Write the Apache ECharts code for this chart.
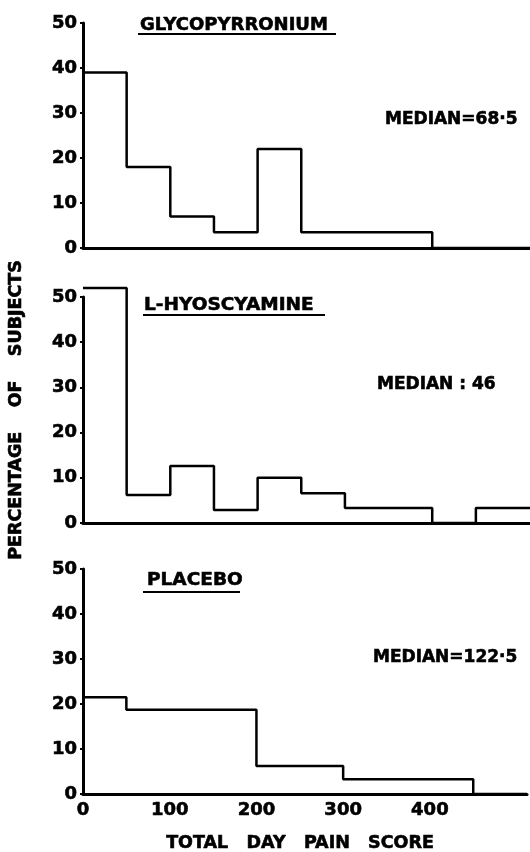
<!DOCTYPE html>
<html>
<head>
<meta charset="utf-8">
<script src="https://cdn.jsdelivr.net/npm/echarts@6/dist/echarts.min.js"></script>
<style>
html,body{margin:0;padding:0;background:#fff;}
#chart{width:530px;height:852px;}
</style>
</head>
<body>
<div id="chart"></div>
<script>
// bins of 50 on the pain score axis
var binEdges = [0, 50, 100, 150, 200, 250, 300, 350, 400, 450];
var glycoValues = [39, 18, 7, 3.5, 22, 3.5, 3.5, 3.5, 0, 0];
var hyosValues = [52, 6.2, 12.6, 2.9, 10, 6.6, 3.3, 3.3, 0, 3.3];
var placeboValues = [21.5, 18.7, 18.7, 18.7, 6.2, 6.2, 3.3, 3.3, 3.3, 0];

var panelNames = ['GLYCOPYRRONIUM', 'L-HYOSCYAMINE', 'PLACEBO'];
var medianLabels = ['MEDIAN=68·5', 'MEDIAN : 46', 'MEDIAN=122·5'];
var xTickLabels = ['0', '100', '200', '300', '400'];
var yTicks = [0, 10, 20, 30, 40, 50];

var X_MAX = 512;
var FONT = 'DejaVu Sans';

function stepPoints(values){
    var pts = [];
    for (var i = 0; i < binEdges.length; i++) {
        pts.push([binEdges[i], values[i]]);
    }
    pts.push([X_MAX, values[values.length - 1]]);
    return pts;
}

var grids = [
    {left: 83, width: 447, top: 23, height: 225},
    {left: 83, width: 447, top: 297, height: 226},
    {left: 83, width: 447, top: 569, height: 225}
];

var xAxes = [], yAxes = [], series = [];
var allValues = [glycoValues, hyosValues, placeboValues];

for (var g = 0; g < 3; g++) {
    xAxes.push({
        type: 'value',
        gridIndex: g,
        min: 0,
        max: X_MAX,
        interval: 100,
        axisLine: {show: true, onZero: false, lineStyle: {color: '#000', width: 3}},
        axisTick: {show: false},
        splitLine: {show: false},
        axisLabel: {
            show: g === 2,
            margin: 7,
            color: '#000',
            fontFamily: FONT,
            fontWeight: 'bold',
            fontSize: 18,
            textBorderColor: '#000',
            textBorderWidth: 0.6,
            formatter: function(v){
                var i = xTickLabels.indexOf(String(v));
                return i >= 0 ? xTickLabels[i] : '';
            }
        }
    });
    yAxes.push({
        type: 'value',
        gridIndex: g,
        min: yTicks[0],
        max: yTicks[yTicks.length - 1],
        interval: 10,
        axisLine: {show: true, lineStyle: {color: '#000', width: 3}},
        axisTick: {show: true, length: 3, lineStyle: {color: '#000', width: 2}},
        splitLine: {show: false},
        axisLabel: {
            margin: 6,
            color: '#000',
            fontFamily: FONT,
            fontWeight: 'bold',
            fontSize: 18,
            textBorderColor: '#000',
            textBorderWidth: 0.6
        }
    });
    series.push({
        type: 'line',
        xAxisIndex: g,
        yAxisIndex: g,
        step: 'end',
        showSymbol: false,
        symbol: 'none',
        clip: false,
        lineStyle: {color: '#000', width: 2.5},
        data: stepPoints(allValues[g])
    });
}

function txt(x, y, s, size, align, rot){
    return {
        type: 'text', x: x, y: y, rotation: rot || 0,
        style: {text: s, fontSize: size, fontFamily: FONT, fontWeight: 'bold',
                fill: '#000', stroke: '#000', lineWidth: 0.6,
                align: align || 'left', verticalAlign: 'middle'}
    };
}
function uline(x1, x2, y){
    return {type: 'line', shape: {x1: x1, y1: y, x2: x2, y2: y},
            style: {stroke: '#000', lineWidth: 2}};
}

var graphics = [
    txt(140, 25, panelNames[0], 18),
    uline(138, 336, 34),
    txt(144, 305, panelNames[1], 18.5),
    uline(143, 325, 315),
    txt(147, 580, panelNames[2], 18.5),
    uline(143, 240, 592),
    txt(385, 120, medianLabels[0], 17),
    txt(377, 385, medianLabels[1], 17),
    txt(373, 658, medianLabels[2], 17),
    txt(300, 843, 'TOTAL   DAY   PAIN   SCORE', 17.5, 'center'),
    txt(16, 410, 'PERCENTAGE    OF    SUBJECTS', 17.5, 'center', Math.PI / 2)
];

var chart = echarts.init(document.getElementById('chart'));
chart.setOption({
    animation: false,
    backgroundColor: '#fff',
    grid: grids,
    xAxis: xAxes,
    yAxis: yAxes,
    series: series,
    graphic: graphics
});
</script>
</body>
</html>
